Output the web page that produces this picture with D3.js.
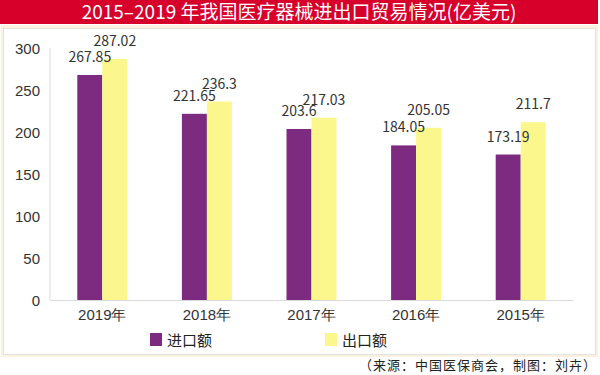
<!DOCTYPE html>
<html lang="zh">
<head>
<meta charset="utf-8">
<title>2015-2019 医疗器械进出口</title>
<script src="https://d3js.org/d3.v7.min.js"></script>
<style>
  body { margin: 0; background: #fff; }
  svg { display: block; font-family: "Noto Sans CJK SC", "Noto Sans", sans-serif; }
  .axis text { fill: #333; font-size: 15px; }
  .axis path, .axis line { stroke: #d9d9d9; }
  .value { fill: #333; font-size: 14px; }
</style>
</head>
<body>
<div id="chart"></div>
<script>
// Data
const years = ["2019年", "2018年", "2017年", "2016年", "2015年"];
const imports = [267.85, 221.65, 203.6, 184.05, 173.19];
const exports = [287.02, 236.3, 217.03, 205.05, 211.7];
const yTicks = [0, 50, 100, 150, 200, 250, 300];
const seriesNames = ["进口额", "出口额"];
const colors = ["#7d2a81", "#fcf78c"];

const width = 600;
const height = 375;
const margin = { top: 48, right: 27, bottom: 75, left: 50 };
const innerWidth = width - margin.left - margin.right;
const innerHeight = height - margin.top - margin.bottom;

const svg = d3.select("#chart")
  .append("svg")
  .attr("width", width)
  .attr("height", height);

// Title bar and panel
svg.append("rect")
  .attr("x", 0).attr("y", 0)
  .attr("width", 598).attr("height", 24)
  .attr("fill", "#d7002b");

svg.append("text")
  .attr("x", 299).attr("y", 19)
  .attr("text-anchor", "middle")
  .attr("fill", "#fff")
  .style("font-size", "19px")
  .text("2015–2019 年我国医疗器械进出口贸易情况(亿美元)");

svg.append("rect")
  .attr("x", 1).attr("y", 25)
  .attr("width", 597).attr("height", 332)
  .attr("fill", "#fcf0de");

svg.append("rect")
  .attr("x", 3.5).attr("y", 28.5)
  .attr("width", 592).attr("height", 326)
  .attr("fill", "#fff")
  .attr("stroke", "#e2e2e2");

const bounds = svg.append("g")
  .attr("transform", `translate(${margin.left},${margin.top})`);

// Scales
const x = d3.scaleBand()
  .domain(years)
  .range([0, innerWidth])
  .paddingInner(0)
  .paddingOuter(0);

const x1 = d3.scaleBand()
  .domain(seriesNames)
  .range([x.bandwidth() / 2 - 25, x.bandwidth() / 2 + 25]);

const y = d3.scaleLinear()
  .domain([0, 300])
  .range([innerHeight, 0]);

// Axes
const yAxis = bounds.append("g")
  .attr("class", "axis")
  .call(d3.axisLeft(y).tickValues(yTicks).tickSize(0).tickPadding(10));
yAxis.select(".domain").attr("d", `M0,${y(300)}V${innerHeight}`);
yAxis.selectAll("text").attr("dy", "0.35em");

const xAxis = bounds.append("g")
  .attr("class", "axis")
  .attr("transform", `translate(0,${innerHeight})`)
  .call(d3.axisBottom(x).tickSize(0).tickPadding(7));
xAxis.selectAll("text").attr("dy", "0.85em");

// Bars
const rows = years.map((yr, i) => ({ year: yr, values: [imports[i], exports[i]] }));

const groups = bounds.selectAll(".group")
  .data(rows)
  .join("g")
  .attr("class", "group")
  .attr("transform", d => `translate(${x(d.year)},0)`);

groups.selectAll("rect")
  .data(d => d.values.map((v, j) => ({ key: seriesNames[j], value: v, color: colors[j] })))
  .join("rect")
  .attr("x", d => x1(d.key))
  .attr("y", d => y(d.value))
  .attr("width", x1.bandwidth())
  .attr("height", d => innerHeight - y(d.value))
  .attr("fill", d => d.color);

groups.selectAll(".value")
  .data(d => d.values.map((v, j) => ({ key: seriesNames[j], value: v })))
  .join("text")
  .attr("class", "value")
  .attr("x", d => x1(d.key) + x1.bandwidth() / 2)
  .attr("y", d => y(d.value) - 13)
  .attr("text-anchor", "middle")
  .text(d => d.value);

// Legend
const legendX = [150, 325];
seriesNames.forEach((name, j) => {
  svg.append("rect")
    .attr("x", legendX[j]).attr("y", 333)
    .attr("width", 12).attr("height", 13)
    .attr("fill", colors[j]);
  svg.append("text")
    .attr("x", legendX[j] + 17).attr("y", 346)
    .attr("fill", "#222")
    .style("font-size", "15px")
    .text(name);
});

// Source
svg.append("text")
  .attr("x", 597).attr("y", 370)
  .attr("text-anchor", "end")
  .attr("fill", "#222")
  .style("font-size", "13px")
  .style("letter-spacing", "1px")
  .text("（来源：中国医保商会，制图：刘卉）");
</script>
</body>
</html>
